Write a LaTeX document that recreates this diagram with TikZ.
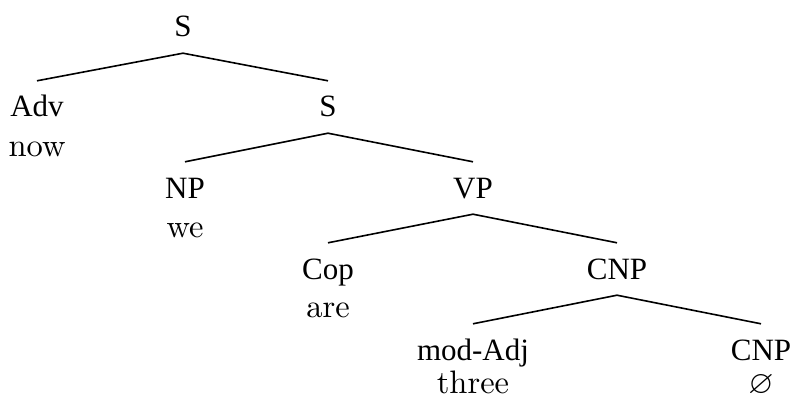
\documentclass[tikz,border=0pt]{standalone}
\usepackage{amssymb}
\usepackage{fontspec}
\newfontfamily\catfont{Liberation Serif}
\begin{document}
\begin{tikzpicture}[x=1pt,y=-1pt,
  cat/.style={anchor=base,font=\catfont\fontsize{31}{33}\selectfont,inner xsep=0pt,inner ysep=2pt,text height=20pt,text depth=0pt},
  word/.style={anchor=base,font=\fontsize{10}{12}\selectfont,inner sep=0pt,scale=3.25},
  edge/.style={line width=1.6pt}]
\useasboundingbox (0,0) rectangle (791,398);
\node[cat] (s1) at (183,37) {S};
\node[cat] (adv) at (37,117) {Adv};
\node[word] (now) at (37,157) {now};
\node[cat] (s2) at (328,117) {S};
\node[cat] (np) at (185,198) {NP};
\node[word] (we) at (185,237) {we};
\node[cat] (vp) at (473,198) {VP};
\node[cat] (cop) at (328,279) {Cop};
\node[word] (are) at (328,317) {are};
\node[cat] (cnp1) at (617,279) {CNP};
\node[cat] (mod) at (473,360) {mod-Adj};
\node[word] (three) at (473,393) {three};
\node[cat] (cnp2) at (761,360) {CNP};
\node[word] (null) at (761,393) {$\varnothing$};
\draw[edge] ([yshift=-14pt]s1.south) -- ([yshift=14pt]adv.north);
\draw[edge] ([yshift=-14pt]s1.south) -- ([yshift=14pt]s2.north);
\draw[edge] ([yshift=-14pt]s2.south) -- ([yshift=14pt]np.north);
\draw[edge] ([yshift=-14pt]s2.south) -- ([yshift=14pt]vp.north);
\draw[edge] ([yshift=-14pt]vp.south) -- ([yshift=14pt]cop.north);
\draw[edge] ([yshift=-14pt]vp.south) -- ([yshift=14pt]cnp1.north);
\draw[edge] ([yshift=-14pt]cnp1.south) -- ([yshift=14pt]mod.north);
\draw[edge] ([yshift=-14pt]cnp1.south) -- ([yshift=14pt]cnp2.north);
\end{tikzpicture}
\end{document}
